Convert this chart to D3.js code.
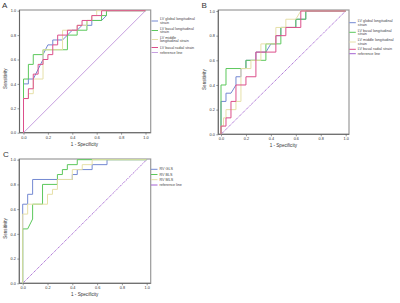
<!DOCTYPE html>
<html>
<head>
<meta charset="utf-8">
<script src="https://cdn.jsdelivr.net/npm/d3@7"></script>
<style>
  body { margin: 0; background: #fff; }
  svg { display: block; }
</style>
</head>
<body>
<script>

// data: ROC points as [1 - specificity, sensitivity]

const tickValues = [0, 0.2, 0.4, 0.6, 0.8, 1.0];

const aGlobal = [[0,0],[0,0.40],[0.04,0.40],[0.04,0.44],[0.08,0.44],[0.12,0.52],[0.16,0.60],[0.16,0.64],[0.20,0.72],[0.24,0.72],[0.24,0.76],[0.32,0.76],[0.40,0.84],[0.44,0.84],[0.48,0.88],[0.56,0.88],[0.56,0.92],[0.64,0.92],[0.68,0.96],[0.68,1],[1,1]];
const aBasal = [[0,0],[0,0.44],[0.04,0.44],[0.04,0.56],[0.08,0.56],[0.08,0.64],[0.16,0.64],[0.16,0.68],[0.36,0.68],[0.36,0.80],[0.44,0.80],[0.44,0.84],[0.52,0.84],[0.52,0.92],[0.64,0.92],[0.64,0.96],[0.68,0.96],[0.68,1],[1,1]];
const aMiddle = [[0,0],[0,0.28],[0.04,0.28],[0.04,0.32],[0.08,0.32],[0.08,0.44],[0.16,0.44],[0.16,0.68],[0.32,0.68],[0.32,0.84],[0.44,0.84],[0.44,0.88],[0.52,0.88],[0.52,0.92],[0.56,0.92],[0.56,0.96],[0.60,0.96],[0.60,1],[1,1]];
const aRadial = [[0,0],[0,0.28],[0.04,0.28],[0.04,0.36],[0.08,0.36],[0.08,0.48],[0.12,0.48],[0.12,0.56],[0.16,0.56],[0.16,0.60],[0.20,0.60],[0.20,0.64],[0.24,0.64],[0.24,0.72],[0.28,0.72],[0.28,0.80],[0.36,0.80],[0.36,0.84],[0.44,0.84],[0.44,0.88],[0.48,0.88],[0.48,0.92],[0.56,0.92],[0.56,0.96],[0.64,0.96],[0.64,1],[1,1]];

const bGlobal = [[0,0],[0,4/15],[0.04,4/15],[0.04,5/15],[0.08,5/15],[0.12,6/15],[0.12,7/15],[0.16,7/15],[0.16,8/15],[0.20,8/15],[0.20,9/15],[0.28,9/15],[0.28,10/15],[0.36,10/15],[0.40,11/15],[0.44,11/15],[0.44,12/15],[0.48,12/15],[0.48,13/15],[0.60,13/15],[0.60,14/15],[0.68,14/15],[0.68,1],[1,1]];
const bBasal = [[0,0],[0,6/15],[0.04,6/15],[0.04,8/15],[0.20,8/15],[0.20,9/15],[0.36,9/15],[0.36,11/15],[0.48,11/15],[0.48,13/15],[0.60,13/15],[0.60,14/15],[0.68,14/15],[0.68,1],[1,1]];
const bMiddle = [[0,0],[0,1/15],[0.02,1/15],[0.02,2/15],[0.04,2/15],[0.04,3/15],[0.12,3/15],[0.12,4/15],[0.16,4/15],[0.16,8/15],[0.24,8/15],[0.24,9/15],[0.32,9/15],[0.32,11/15],[0.44,11/15],[0.44,13/15],[0.52,13/15],[0.52,14/15],[0.60,14/15],[0.64,1],[1,1]];
const bRadial = [[0,0],[0,1/15],[0.04,1/15],[0.04,2/15],[0.08,2/15],[0.08,4/15],[0.12,4/15],[0.12,6/15],[0.20,6/15],[0.20,7/15],[0.28,7/15],[0.28,10/15],[0.44,10/15],[0.44,12/15],[0.52,12/15],[0.52,13/15],[0.64,13/15],[0.64,1],[1,1]];

const cGls = [[0,0],[0,0.64],[0.04,0.64],[0.04,0.72],[0.08,0.72],[0.08,0.84],[0.40,0.84],[0.40,0.88],[0.44,0.88],[0.44,0.92],[0.56,0.92],[0.56,0.96],[0.68,0.96],[0.68,1],[1,1]];
const cBls = [[0,0],[0,0.44],[0.04,0.44],[0.08,0.52],[0.08,0.64],[0.16,0.64],[0.16,0.80],[0.28,0.80],[0.28,0.88],[0.32,0.88],[0.32,0.92],[0.36,0.92],[0.36,0.96],[0.44,0.96],[0.44,1],[1,1]];
const cMls = [[0,0],[0,0.56],[0.04,0.56],[0.04,0.64],[0.20,0.64],[0.20,0.72],[0.24,0.72],[0.24,0.76],[0.28,0.76],[0.28,0.84],[0.40,0.84],[0.40,0.92],[0.48,0.92],[0.48,0.96],[0.56,0.96],[0.56,1],[1,1]];

const referenceLine = [[0,0],[1,1]];

const namesA = [["LV global longitudinal", "strain"], ["LV basal longitudinal", "strain"], ["LV middle", "longitudinal strain"], ["LV basal radial strain"], ["reference line"]];
const namesB = [["LV global longitudinal", "strain"], ["LV basal longitudinal", "strain"], ["LV middle longitudinal", "strain"], ["LV basal radial strain"], ["reference line"]];
const namesC = [["RV GLS"], ["RV BLS"], ["RV MLS"], ["reference line"]];

const colors = {
    blue: "#7489d2",
    green: "#5cc85c",
    beige: "#e6e0a8",
    pink: "#dc4f8b",
    refSolid: "#c7a0e0",
    refDotted: "#a463d2"
};

// canvas

const svg = d3.select("body")
                .append("svg")
                    .attr("width", 400)
                    .attr("height", 303)
                    .style("font-family", "Arial, 'Liberation Sans', sans-serif");

function drawPanel(p) {

    const xScale = d3.scaleLinear().domain([0, 1]).range(p.xRange);
    const yScale = d3.scaleLinear().domain([0, 1]).range(p.yRange);
    const f = p.frame;

    const g = svg.append("g");

    // frame
    g.append("rect")
        .attr("x", f.l).attr("y", f.t)
        .attr("width", f.r - f.l).attr("height", f.b - f.t)
        .attr("fill", "none")
        .attr("stroke", "#9a9a9a")
        .attr("stroke-width", 1.2);

    // axes
    const xAxis = g.append("g")
        .attr("transform", `translate(0, ${f.b})`)
        .call(d3.axisBottom(xScale).tickValues(tickValues).tickFormat(d3.format(".1f")).tickSize(2).tickPadding(1.5));
    const yAxis = g.append("g")
        .attr("transform", `translate(${f.l}, 0)`)
        .call(d3.axisLeft(yScale).tickValues(tickValues).tickFormat(d3.format(".1f")).tickSize(2).tickPadding(1.5));

    [xAxis, yAxis].forEach(a => {
        a.select(".domain").remove();
        a.selectAll("line").attr("stroke", "#555").attr("stroke-width", 0.6);
        a.selectAll("text").attr("font-size", 3.8).attr("fill", "#333");
    });

    g.append("line")
        .attr("x1", f.l).attr("x2", f.l)
        .attr("y1", f.t).attr("y2", f.b)
        .attr("stroke", "#666").attr("stroke-width", 1);
    g.append("line")
        .attr("x1", f.l).attr("x2", f.r)
        .attr("y1", f.b).attr("y2", f.b)
        .attr("stroke", "#666").attr("stroke-width", 1);

    // titles
    g.append("text")
        .attr("x", (p.xRange[0] + p.xRange[1]) / 2)
        .attr("y", f.b + 13)
        .attr("text-anchor", "middle")
        .attr("font-size", 4.6)
        .attr("fill", "#333")
        .text("1 - Specificity");

    const yMid = (p.yRange[0] + p.yRange[1]) / 2 + 7;
    g.append("text")
        .attr("transform", `translate(${f.l - 12.5}, ${yMid}) rotate(-90)`)
        .attr("text-anchor", "middle")
        .attr("font-size", 4.6)
        .attr("fill", "#333")
        .text("Sensitivity");

    g.append("text")
        .attr("x", p.letter[1])
        .attr("y", p.letter[2])
        .attr("font-size", 8)
        .attr("fill", "#333")
        .text(p.letter[0]);

    // curves
    const line = d3.line()
                    .x(d => xScale(d[0]))
                    .y(d => yScale(d[1]));

    const ref = g.append("path")
        .attr("d", line(referenceLine))
        .style("fill", "none")
        .style("stroke", p.refColor)
        .style("stroke-width", 1);
    if (p.refDash) ref.style("stroke-dasharray", p.refDash);

    p.series.forEach(s => {
        g.append("path")
            .attr("d", line(s.points))
            .style("fill", "none")
            .style("stroke", s.color)
            .style("stroke-width", 1);
    });

    // legend
    const entries = p.series.map(s => s.color).concat([p.refColor]);
    entries.forEach((c, i) => {
        const y = p.legendY[i];
        g.append("line")
            .attr("x1", p.legendX).attr("x2", p.legendX + 6.5)
            .attr("y1", y).attr("y2", y)
            .style("stroke", c).style("stroke-width", 1);
        const lines = p.names[i];
        lines.forEach((t, j) => {
            g.append("text")
                .attr("x", p.legendX + 8.5)
                .attr("y", y + (j - (lines.length - 1) / 2) * 3.6)
                .attr("dominant-baseline", "central")
                .attr("font-size", 3.7)
                .attr("fill", "#444")
                .text(t);
        });
    });
}

drawPanel({
    letter: ["A", 2, 8],
    frame: { l: 19.5, r: 150.7, t: 10, b: 132.7 },
    xRange: [23.5, 145.5],
    yRange: [132.7, 10.7],
    refDash: null,
    refColor: colors.refSolid,
    series: [
        { color: colors.blue, points: aGlobal },
        { color: colors.green, points: aBasal },
        { color: colors.beige, points: aMiddle },
        { color: colors.pink, points: aRadial }
    ],
    names: namesA,
    legendX: 151.5,
    legendY: [21, 30.5, 39.5, 47.5, 52.5]
});

drawPanel({
    letter: ["B", 201.5, 8],
    frame: { l: 218.3, r: 349, t: 10, b: 134.3 },
    xRange: [221, 345.7],
    yRange: [134.3, 11],
    refDash: "1.2,0.8",
    refColor: colors.refDotted,
    series: [
        { color: colors.blue, points: bGlobal },
        { color: colors.green, points: bBasal },
        { color: colors.beige, points: bMiddle },
        { color: colors.pink, points: bRadial }
    ],
    names: namesB,
    legendX: 349.3,
    legendY: [22.7, 32.3, 42, 49.3, 53.7]
});

drawPanel({
    letter: ["C", 3, 157],
    frame: { l: 19.3, r: 150.7, t: 159, b: 283.3 },
    xRange: [22.7, 146.7],
    yRange: [283.3, 159.7],
    refDash: "1.2,0.8",
    refColor: colors.refDotted,
    series: [
        { color: colors.blue, points: cGls },
        { color: colors.green, points: cBls },
        { color: colors.beige, points: cMls }
    ],
    names: namesC,
    legendX: 151,
    legendY: [169.3, 174.5, 179.7, 185]
});

</script>
</body>
</html>
